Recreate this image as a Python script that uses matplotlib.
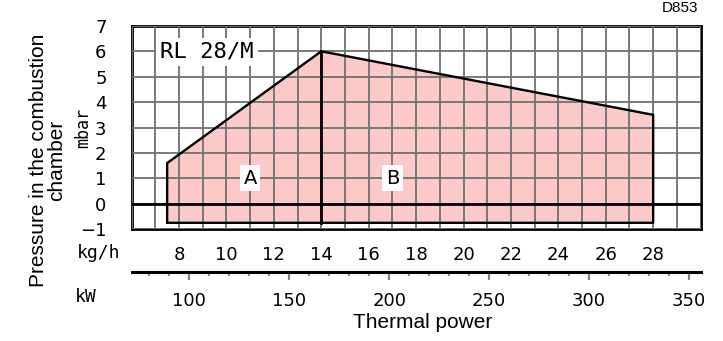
import matplotlib
matplotlib.use("Agg")
import matplotlib.pyplot as plt
import numpy as np

# firing range of the burner (kg/h of oil vs. mbar in the combustion chamber)
range_kgh = [7.5, 7.5, 14, 28, 28]
range_mbar = [-0.75, 1.6, 6.0, 3.5, -0.75]
split_kgh = 14  # boundary between zone A and zone B

kgh_labels = [8, 10, 12, 14, 16, 18, 20, 22, 24, 26, 28]
kw_labels = [100, 150, 200, 250, 300, 350]
mbar_labels = [-1, 0, 1, 2, 3, 4, 5, 6, 7]
KW_PER_KGH = 11.86

plt.rcParams['font.family'] = ['DejaVu Sans']
fig = plt.figure(figsize=(7.23, 3.41), dpi=100)

ax = fig.add_axes([0.182, 0.328, 0.787, 0.596])
ax.set_xlim(6, 30)
ax.set_ylim(-1, 7)

ax.fill(range_kgh, range_mbar, color='#fcc9c9', lw=0, zorder=0.5)
ax.plot(range_kgh + [range_kgh[0]], range_mbar + [range_mbar[0]], color='k', lw=1.7, zorder=3)
ax.plot([split_kgh, split_kgh], [range_mbar[0], 6.0], color='k', lw=2, zorder=3)
ax.axhline(0, color='k', lw=2, zorder=3)

ax.set_xticks(kgh_labels)
ax.set_xticks(np.arange(6, 31), minor=True)
ax.set_yticks(mbar_labels)
ax.set_yticklabels([str(v) if v >= 0 else '\u22121' for v in mbar_labels])
ax.grid(which='both', color='#707070', lw=1.3, zorder=1)
ax.set_axisbelow(False)
ax.tick_params(which='both', length=0)
ax.tick_params(axis='x', pad=12, labelsize=13)
ax.tick_params(axis='y', pad=18, labelsize=13)
for s in ax.spines.values():
    s.set_linewidth(2)

bbox = dict(facecolor='white', edgecolor='none', pad=2.5)
ax.text(11, 1, 'A', fontsize=14, ha='center', va='center', bbox=bbox, zorder=4)
ax.text(17, 1, 'B', fontsize=14, ha='center', va='center', bbox=bbox, zorder=4)
ax.text(7.2, 5.98, 'RL 28/M', fontsize=16, family='DejaVu Sans Mono', ha='left', va='center',
        bbox=dict(facecolor='white', edgecolor='none', pad=3), zorder=4)

# thermal power scale
kax = fig.add_axes([0.182, 0.202, 0.787, 0.001])
kax.set_xlim(6 * KW_PER_KGH, 30 * KW_PER_KGH)
kax.set_yticks([])
for side in ['top', 'left', 'right']:
    kax.spines[side].set_visible(False)
kax.spines['bottom'].set_linewidth(2.2)
kax.set_xticks(kw_labels)
kax.set_xticks(np.arange(80, 360, 10), minor=True)
kax.tick_params(which='major', length=6, width=1.6, color='#808080', pad=8, labelsize=13)
kax.tick_params(which='minor', length=3, width=1.3, color='#808080')

fig.text(0.136, 1 - 253 / 341, 'kg/h', fontsize=13, family='DejaVu Sans Mono',
         ha='center', va='center')
fig.text(0.119, 1 - 297 / 341, 'kW', fontsize=13, family='DejaVu Sans Mono', ha='center', va='center')
fig.text(0.584, 1 - 322 / 341, 'Thermal power', fontsize=15, family='Liberation Sans',
         ha='center', va='center')
fig.text(0.115, 1 - 128 / 341, 'mbar', fontsize=12, family='DejaVu Sans Mono', rotation=90,
         ha='center', va='center')
fig.text(0.066, 1 - 160 / 341, 'Pressure in the combustion\nchamber', fontsize=15,
         family='Liberation Sans', rotation=90, ha='center', va='center', linespacing=0.95)
fig.text(0.94, 1 - 8 / 341, 'D853', fontsize=11, family='Liberation Sans', ha='center', va='center')

fig.savefig('out.png', dpi=100)
